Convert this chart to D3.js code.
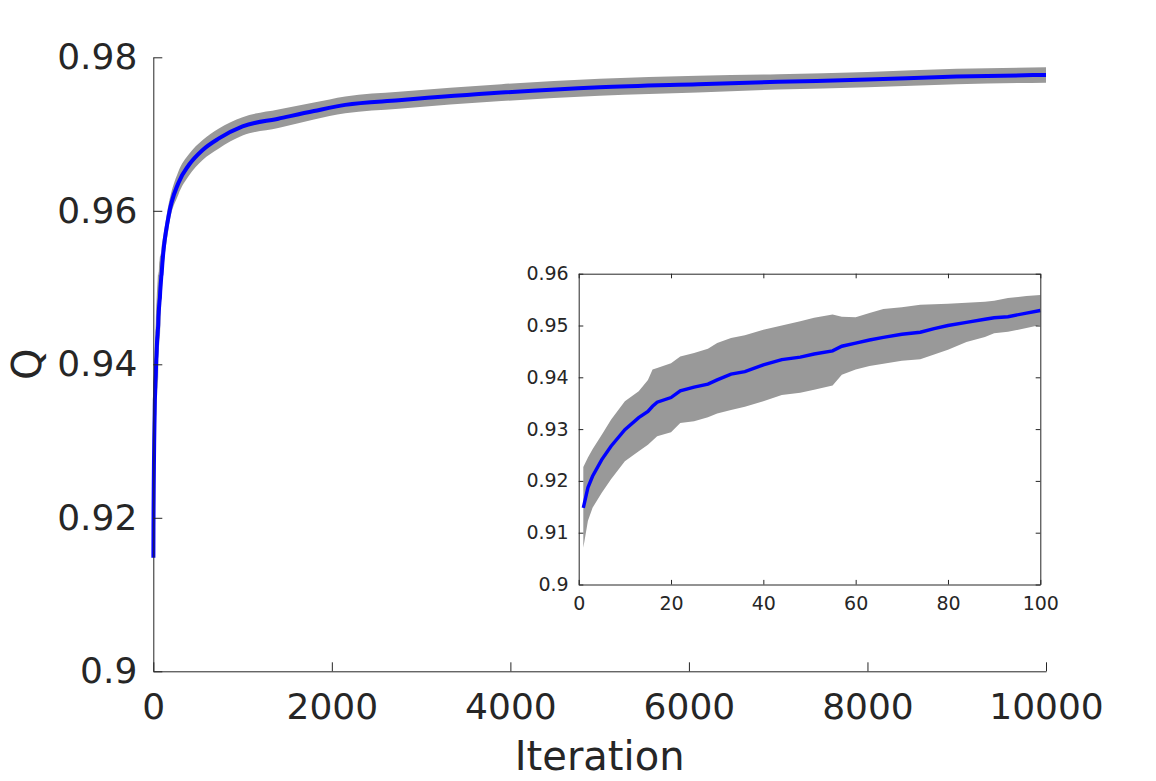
<!doctype html>
<html lang="en">
<head>
  <meta charset="utf-8">
  <title>Q vs Iteration</title>
  <style>
    * { margin: 0; padding: 0; box-sizing: border-box; }
    body { background: #fff; }
    svg { display: block; font-family: "DejaVu Sans", sans-serif; }
    .tick text { fill: #262626; }
    .domain, .tick line { stroke: #262626; }
  </style>
</head>
<body>
  <div id="container"></div>
  <script src="https://cdn.jsdelivr.net/npm/d3@7"></script>
  <script>
    // first 100 iterations
    const iterEarly  = [1, 2, 3, 5, 7, 10, 13, 15, 16, 17, 20, 22, 25, 28, 30, 33, 36, 40, 44, 48, 51, 55, 57, 60, 63, 66, 70, 74, 77, 80, 84, 88, 90, 93, 97, 100];
    const meanEarly  = [0.9148, 0.9187, 0.9209, 0.9241, 0.9267, 0.9299, 0.9322, 0.9334, 0.9344, 0.9352, 0.9361, 0.9374, 0.9381, 0.9387, 0.9395, 0.9406, 0.9411, 0.9424, 0.9434, 0.9439, 0.9445, 0.9451, 0.9460, 0.9466, 0.9472, 0.9477, 0.9483, 0.9487, 0.9494, 0.9500, 0.9506, 0.9512, 0.9515, 0.9517, 0.9524, 0.9529];
    const upperEarly = [0.9227, 0.9245, 0.9261, 0.9289, 0.9318, 0.9354, 0.9373, 0.9395, 0.9415, 0.9418, 0.9427, 0.9440, 0.9447, 0.9455, 0.9466, 0.9476, 0.9481, 0.9492, 0.9500, 0.9508, 0.9515, 0.9521, 0.9517, 0.9516, 0.9524, 0.9532, 0.9535, 0.9540, 0.9541, 0.9542, 0.9544, 0.9546, 0.9548, 0.9553, 0.9557, 0.9559];
    const lowerEarly = [0.9071, 0.9123, 0.9148, 0.9177, 0.9203, 0.9238, 0.9257, 0.9270, 0.9278, 0.9286, 0.9294, 0.9312, 0.9315, 0.9323, 0.9330, 0.9337, 0.9343, 0.9354, 0.9366, 0.9370, 0.9376, 0.9384, 0.9405, 0.9415, 0.9422, 0.9426, 0.9432, 0.9435, 0.9444, 0.9453, 0.9468, 0.9478, 0.9485, 0.9488, 0.9495, 0.9501];

    // the rest of the run
    const iterLate  = [170, 280, 400, 550, 730, 1000, 1400, 1800, 2150, 2750, 3900, 5000, 6100, 7000, 8000, 9000, 10000];
    const meanLate  = [0.9592, 0.9636, 0.9660, 0.9679, 0.9694, 0.9710, 0.9720, 0.9730, 0.9738, 0.9744, 0.9754, 0.9761, 0.9765, 0.9768, 0.9771, 0.9775, 0.9777];
    const upperLate = [0.9608, 0.9651, 0.9674, 0.9692, 0.9707, 0.9722, 0.9732, 0.9741, 0.9749, 0.9755, 0.9765, 0.9772, 0.9776, 0.9778, 0.9781, 0.9785, 0.9787];
    const lowerLate = [0.9576, 0.9621, 0.9646, 0.9666, 0.9681, 0.9698, 0.9708, 0.9719, 0.9727, 0.9733, 0.9743, 0.9750, 0.9754, 0.9758, 0.9761, 0.9765, 0.9767];

    const mainYTicks = [0.9, 0.92, 0.94, 0.96, 0.98];
    const mainXTicks = [0, 2000, 4000, 6000, 8000, 10000];
    const insetYTicks = [0.9, 0.91, 0.92, 0.93, 0.94, 0.95, 0.96];
    const insetXTicks = [0, 20, 40, 60, 80, 100];

    const early = iterEarly.map((it, i) => ({it, m: meanEarly[i], hi: upperEarly[i], lo: lowerEarly[i]}));
    const late = iterLate.map((it, i) => ({it, m: meanLate[i], hi: upperLate[i], lo: lowerLate[i]}));
    const all = early.concat(late);

    const W = 1156, H = 781;
    const FONT = '"DejaVu Sans", sans-serif';
    const svg = d3.select('#container').append('svg')
      .attr('width', W)
      .attr('height', H);

    // ---- main axes
    const x = d3.scaleLinear().domain([0, 10000]).range([153.3, 1046]);
    const y = d3.scaleLinear().domain([0.9, 0.98]).range([671.3, 57.3]);

    const band = (sx, sy, c) => d3.area().curve(c).x(d => sx(d.it)).y0(d => sy(d.lo)).y1(d => sy(d.hi));
    const line = (sx, sy, c) => d3.line().curve(c).x(d => sx(d.it)).y(d => sy(d.m));

    svg.append('path')
      .datum(all)
      .attr('d', band(x, y, d3.curveMonotoneX))
      .attr('fill', '#999999');

    svg.append('path')
      .datum(all)
      .attr('d', line(x, y, d3.curveMonotoneX))
      .attr('fill', 'none')
      .attr('stroke', '#0000ff')
      .attr('stroke-width', 4);

    const gx = svg.append('g')
      .attr('transform', `translate(0,${y(0.9)})`)
      .call(d3.axisBottom(x).tickValues(mainXTicks).tickFormat(d3.format('d')).tickSizeInner(-9).tickSizeOuter(0).tickPadding(22));
    gx.attr('font-family', FONT).attr('font-size', 36);
    gx.selectAll('text').attr('dy', '0.71em');

    const gy = svg.append('g')
      .attr('transform', `translate(${x(0)},0)`)
      .call(d3.axisLeft(y).tickValues(mainYTicks).tickFormat(d => d3.format('.2~f')(d)).tickSizeInner(-9).tickSizeOuter(0).tickPadding(16));
    gy.attr('font-family', FONT).attr('font-size', 36);

    svg.selectAll('.domain').attr('stroke-width', 1);

    svg.append('text')
      .attr('x', (x.range()[0] + x.range()[1]) / 2)
      .attr('y', 770)
      .attr('text-anchor', 'middle')
      .attr('font-family', FONT)
      .attr('font-size', 40)
      .attr('fill', '#262626')
      .text('Iteration');

    svg.append('text')
      .attr('transform', `translate(41,${(y.range()[0] + y.range()[1]) / 2}) rotate(-90)`)
      .attr('text-anchor', 'middle')
      .attr('font-family', FONT)
      .attr('font-size', 40)
      .attr('fill', '#262626')
      .text('Q');

    // ---- inset
    const ix = d3.scaleLinear().domain([0, 100]).range([578.7, 1040.3]);
    const iy = d3.scaleLinear().domain([0.9, 0.96]).range([584.5, 273.7]);

    const inset = svg.append('g');
    inset.append('rect')
      .attr('x', ix(0)).attr('y', iy(0.96))
      .attr('width', ix(100) - ix(0)).attr('height', iy(0.9) - iy(0.96))
      .attr('fill', '#fff');

    inset.append('path')
      .datum(early)
      .attr('d', band(ix, iy, d3.curveLinear))
      .attr('fill', '#999999');

    inset.append('path')
      .datum(early)
      .attr('d', line(ix, iy, d3.curveLinear))
      .attr('fill', 'none')
      .attr('stroke', '#0000ff')
      .attr('stroke-width', 3.4);

    const tl = 4.6;
    const fmtI = d => d3.format('.2~f')(d);
    const ib = inset.append('g').attr('transform', `translate(0,${iy(0.9)})`)
      .call(d3.axisBottom(ix).tickValues(insetXTicks).tickSizeInner(-tl).tickSizeOuter(0).tickPadding(12));
    ib.attr('font-family', FONT).attr('font-size', 19);
    ib.selectAll('text').attr('dy', '0.71em');
    inset.append('g').attr('transform', `translate(0,${iy(0.96)})`)
      .call(d3.axisTop(ix).tickValues(insetXTicks).tickSizeInner(-tl).tickSizeOuter(0).tickFormat(''));
    const il = inset.append('g').attr('transform', `translate(${ix(0)},0)`)
      .call(d3.axisLeft(iy).tickValues(insetYTicks).tickFormat(fmtI).tickSizeInner(-tl).tickSizeOuter(0).tickPadding(10));
    il.attr('font-family', FONT).attr('font-size', 19);
    inset.append('g').attr('transform', `translate(${ix(100)},0)`)
      .call(d3.axisRight(iy).tickValues(insetYTicks).tickSizeInner(-tl).tickSizeOuter(0).tickFormat(''));

    inset.selectAll('.domain').attr('stroke-width', 1);
  </script>
</body>
</html>
